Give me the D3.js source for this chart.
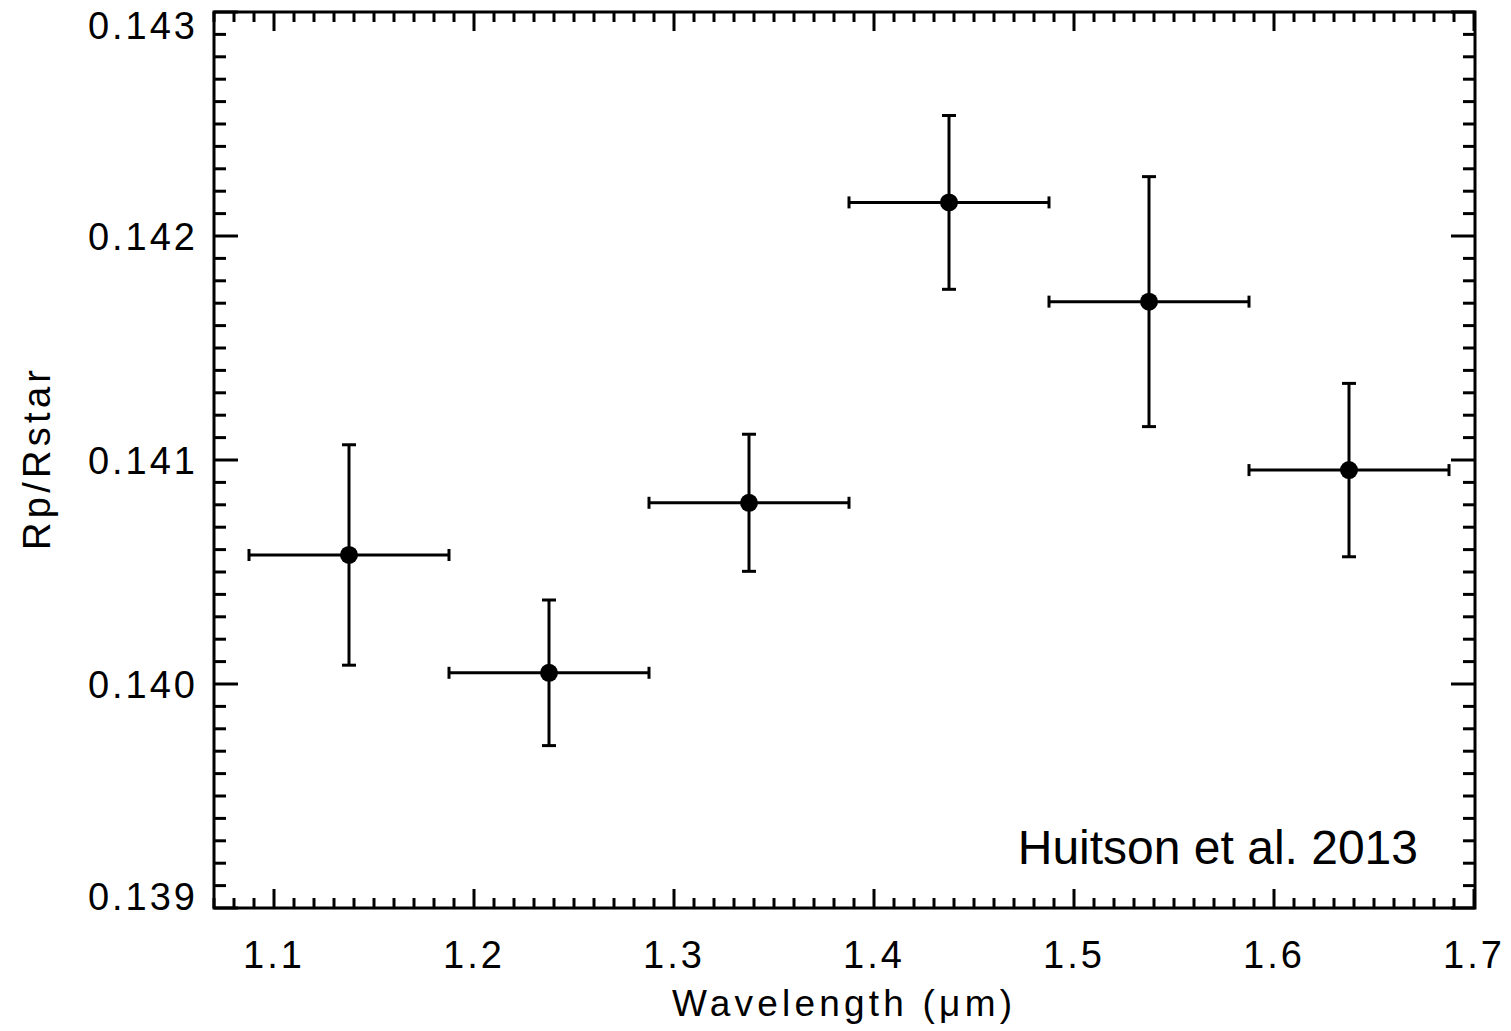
<!DOCTYPE html>
<html>
<head>
<meta charset="utf-8">
<script src="https://cdn.jsdelivr.net/npm/d3@7"></script>
<style>
  html, body { margin: 0; padding: 0; background: #fff; }
  svg { display: block; }
  .tick-label { font-family: "Liberation Sans", Arial, sans-serif; fill: #000; }
</style>
</head>
<body>
<svg id="chart" width="1511" height="1031"></svg>
<script>
// Transmission spectrum: planet-to-star radius ratio per wavelength bin
const wavelength   = [1.1375, 1.2375, 1.3375, 1.4375, 1.5375, 1.6375];
const binHalfWidth = [0.05, 0.05, 0.05, 0.05, 0.05, 0.05];
const radiusRatio  = [0.140576, 0.140050, 0.140809, 0.142150, 0.141707, 0.140955];
const radiusError  = [0.000492, 0.000325, 0.000306, 0.000388, 0.000558, 0.000387];

const xTickValues = [1.1, 1.2, 1.3, 1.4, 1.5, 1.6, 1.7];
const xTickLabels = ["1.1", "1.2", "1.3", "1.4", "1.5", "1.6", "1.7"];
const yTickValues = [0.139, 0.140, 0.141, 0.142, 0.143];
const yTickLabels = ["0.139", "0.140", "0.141", "0.142", "0.143"];

const xLabel = "Wavelength (\u03BCm)";
const yLabel = "Rp/Rstar";
const note = "Huitson et al. 2013";

const svg = d3.select("#chart");
const plotLeft = 214, plotRight = 1475, plotTop = 12, plotBottom = 908;

const x = d3.scaleLinear().domain([1.07, 1.7005]).range([plotLeft, plotRight]);
const y = d3.scaleLinear().domain([0.139, 0.143]).range([plotBottom, plotTop]);

const minorX = d3.range(1.07, 1.7001, 0.01).map(v => +v.toFixed(3));
const minorY = d3.range(0.139, 0.14301, 0.0001).map(v => +v.toFixed(5));

const ink = "#000";
const sw = 3;

// Ticks on all four sides (mirrored), long for major, short for minor
const tickG = svg.append("g").attr("stroke", ink).attr("stroke-width", sw);
const isMajorX = v => xTickValues.some(t => Math.abs(t - v) < 1e-6);
const isMajorY = v => yTickValues.some(t => Math.abs(t - v) < 1e-7);

minorX.forEach(v => {
  const len = isMajorX(v) ? 19 : 10;
  const px = x(v);
  tickG.append("line").attr("x1", px).attr("x2", px).attr("y1", plotBottom).attr("y2", plotBottom - len);
  tickG.append("line").attr("x1", px).attr("x2", px).attr("y1", plotTop).attr("y2", plotTop + len);
});
minorY.forEach(v => {
  const len = isMajorY(v) ? 24 : 12;
  const py = y(v);
  tickG.append("line").attr("y1", py).attr("y2", py).attr("x1", plotLeft).attr("x2", plotLeft + len);
  tickG.append("line").attr("y1", py).attr("y2", py).attr("x1", plotRight).attr("x2", plotRight - len);
});

// Frame
svg.append("rect")
  .attr("x", plotLeft).attr("y", plotTop)
  .attr("width", plotRight - plotLeft).attr("height", plotBottom - plotTop)
  .attr("fill", "none").attr("stroke", ink).attr("stroke-width", sw);

// Tick labels
svg.append("g").selectAll("text").data(xTickValues).join("text")
  .attr("class", "tick-label")
  .attr("x", d => x(d)).attr("y", 968)
  .attr("text-anchor", "middle")
  .attr("font-size", 38)
  .attr("letter-spacing", 3)
  .text((d, i) => xTickLabels[i]);

svg.append("g").selectAll("text").data(yTickValues).join("text")
  .attr("class", "tick-label")
  .attr("x", 198)
  .attr("y", d => Math.min(Math.max(y(d), plotTop + 13), plotBottom - 12))
  .attr("dy", "0.36em")
  .attr("text-anchor", "end")
  .attr("font-size", 38)
  .attr("letter-spacing", 3)
  .text((d, i) => yTickLabels[i]);

// Axis titles
svg.append("text")
  .attr("class", "tick-label")
  .attr("x", 842).attr("y", 1016)
  .attr("text-anchor", "middle")
  .attr("font-size", 37)
  .attr("textLength", 340)
  .text(xLabel);

svg.append("text")
  .attr("class", "tick-label")
  .attr("transform", "translate(50,460) rotate(-90)")
  .attr("text-anchor", "middle")
  .attr("font-size", 38)
  .attr("textLength", 180)
  .text(yLabel);

// Error bars and points
const idx = d3.range(wavelength.length);
const capH = 6, capV = 7;
const bars = svg.append("g").attr("stroke", ink).attr("stroke-width", sw);
idx.forEach(i => {
  const cx = x(wavelength[i]), cy = y(radiusRatio[i]);
  const x0 = x(wavelength[i] - binHalfWidth[i]), x1 = x(wavelength[i] + binHalfWidth[i]);
  const y0 = y(radiusRatio[i] - radiusError[i]), y1 = y(radiusRatio[i] + radiusError[i]);
  bars.append("line").attr("x1", x0).attr("x2", x1).attr("y1", cy).attr("y2", cy);
  bars.append("line").attr("x1", x0).attr("x2", x0).attr("y1", cy - capH).attr("y2", cy + capH);
  bars.append("line").attr("x1", x1).attr("x2", x1).attr("y1", cy - capH).attr("y2", cy + capH);
  bars.append("line").attr("x1", cx).attr("x2", cx).attr("y1", y0).attr("y2", y1);
  bars.append("line").attr("x1", cx - capV).attr("x2", cx + capV).attr("y1", y0).attr("y2", y0);
  bars.append("line").attr("x1", cx - capV).attr("x2", cx + capV).attr("y1", y1).attr("y2", y1);
});
svg.append("g").selectAll("circle").data(idx).join("circle")
  .attr("cx", i => x(wavelength[i]))
  .attr("cy", i => y(radiusRatio[i]))
  .attr("r", 9)
  .attr("fill", ink);

// Citation
svg.append("text")
  .attr("x", 1418).attr("y", 864)
  .attr("text-anchor", "end")
  .attr("font-family", "Liberation Sans, Arial, sans-serif")
  .attr("font-size", 48)
  .attr("fill", ink)
  .text(note);
</script>
</body>
</html>
